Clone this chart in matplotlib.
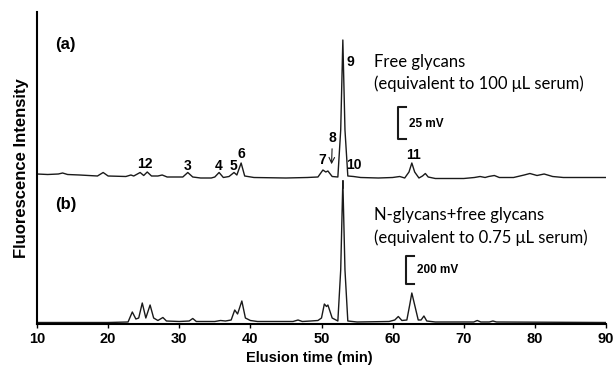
import matplotlib.pyplot as plt
import numpy as np

plt.rcParams['font.family'] = ['Liberation Sans', 'DejaVu Sans']

# trace (a): free glycans, elution time (min) / intensity (a.u.)
t_a = [10.0, 11.5, 13.0, 13.6, 14.3, 16.0, 18.5, 19.3, 20.0, 22.5, 23.2, 23.6,
       24.5, 25.0, 25.5, 26.1, 27.0, 27.6, 28.3, 29.5, 30.5, 31.2, 31.9, 33.0,
       34.5, 35.0, 35.6, 36.2, 37.0, 37.7, 38.1, 38.7, 39.2, 40.5, 45.0, 48.0,
       49.5, 50.2, 50.6, 50.9, 51.5, 52.3, 52.7, 53.0, 53.3, 53.7, 54.5, 55.5,
       58.0, 60.0, 61.0, 61.7, 62.3, 62.7, 63.1, 63.7, 64.2, 64.6, 65.0, 66.0,
       70.0, 71.5, 72.3, 73.0, 73.5, 74.3, 75.0, 77.0, 78.5, 79.3, 80.3, 81.3,
       82.5, 84.0, 90.0]
i_a = [150, 149.5, 150, 151, 149.5, 149, 148, 151.5, 148, 147.5, 149, 148,
       151.5, 148.5, 152, 148, 148, 149, 147, 147, 147, 151.5, 147, 146,
       146, 147, 151.5, 146.5, 147.5, 151.5, 149, 161, 148, 146.5, 146, 146.5,
       147, 154, 152, 153, 147.5, 147, 194, 284, 194, 148, 147.5, 146.5,
       146, 146.5, 147.5, 146, 152, 161, 152, 146, 148, 150.5, 147, 145.5,
       145.5, 146.5, 147.5, 146.5, 147.5, 148.5, 146.5, 146.5, 149, 150.5, 148.5, 150,
       147.5, 146.5, 146.5]

# trace (b): N-glycans + free glycans
t_b = [10.0, 20.0, 22.8, 23.4, 23.9, 24.3, 24.8, 25.3, 25.9, 26.4, 27.0, 27.7,
       28.2, 30.0, 31.4, 31.9, 32.4, 35.0, 35.8, 36.5, 37.3, 37.8, 38.2, 38.8,
       39.3, 40.0, 41.0, 46.0, 46.7, 47.3, 48.5, 49.5, 50.0, 50.4, 50.7, 50.9,
       51.5, 52.3, 52.7, 53.0, 53.3, 53.7, 55.0, 59.5, 60.3, 60.8, 61.3, 62.0,
       62.4, 62.7, 63.1, 63.6, 64.0, 64.4, 64.8, 66.0, 71.4, 71.9, 72.4, 73.6,
       74.1, 74.6, 90.0]
i_b = [1.5, 1.5, 2, 12, 5, 6, 21, 6, 19, 6, 3.5, 6.5,
       3, 2.5, 3, 5.5, 2.5, 2.5, 3.5, 3, 4, 14, 10, 23,
       6, 3.5, 2.5, 2.5, 4, 2.5, 3, 3.5, 6, 20, 17.5, 19,
       6, 3, 54, 143, 54, 3, 2, 2.5, 4, 7.5, 3.5, 4,
       19, 31, 19, 4, 4, 8, 3, 2, 2, 3.5, 2, 2,
       3, 2, 1.5]

# peak numbers for trace (a): label, time, height of label
peak_lbl = ['12', '3', '4', '5', '6', '7', '9', '10', '11']
peak_t = [25.1, 31.2, 35.6, 37.6, 38.7, 50.1, 54.1, 54.5, 62.9]
peak_y = [160, 158, 158, 158, 170, 164, 262, 159, 169]

fig = plt.figure(figsize=(6.15, 3.74), dpi=100)
ax = fig.add_axes([37 / 615, 50 / 374, 569 / 615, 312 / 374])

ax.plot(t_a, i_a, color='#1a1a1a', lw=1.0)
ax.plot(t_b, i_b, color='#1a1a1a', lw=1.0)
# injection mark under peak 9
ax.plot([53.0, 53.0], [136, 143], color='#1a1a1a', lw=1.2)

ax.set_xlim(10, 90)
ax.set_ylim(0, 312)
ax.spines['top'].set_visible(False)
ax.spines['right'].set_visible(False)
ax.spines['left'].set_linewidth(1.5)
ax.spines['bottom'].set_linewidth(1.5)
ax.set_yticks([])
ax.set_xticks(np.arange(10, 91, 10))
ax.tick_params(axis='x', length=3, width=1, labelsize=10.5, pad=3)
for lab in ax.get_xticklabels():
    lab.set_fontweight('bold')
ax.set_xlabel('Elusion time (min)', fontsize=10.5, fontweight='bold', labelpad=4)
ax.xaxis.set_label_coords(0.478, -0.085)
ax.set_ylabel('Fluorescence Intensity', fontsize=12, fontweight='bold', labelpad=6)

ax.text(12.5, 279, '(a)', fontsize=12, fontweight='bold', va='center')
ax.text(12.5, 120, '(b)', fontsize=12, fontweight='bold', va='center')

for lbl, x, y in zip(peak_lbl, peak_t, peak_y):
    ax.text(x, y, lbl, fontsize=10, fontweight='bold', ha='center', va='center')
ax.text(51.5, 186, '8', fontsize=10, fontweight='bold', ha='center', va='center')
ax.annotate('', xy=(51.4, 157), xytext=(51.5, 178),
            arrowprops=dict(arrowstyle='->', lw=0.8, color='#1a1a1a'))

ax.text(57.4, 262, 'Free glycans', fontsize=12, family=['Lato', 'DejaVu Sans'], va='center')
ax.text(57.4, 240, '(equivalent to 100 \u03bcL serum)', fontsize=12,
        family=['Lato', 'DejaVu Sans'], va='center')
ax.text(57.4, 109, 'N-glycans+free glycans', fontsize=12, family=['Lato', 'DejaVu Sans'], va='center')
ax.text(57.4, 86, '(equivalent to 0.75 \u03bcL serum)', fontsize=12,
        family=['Lato', 'DejaVu Sans'], va='center')

# scale bars
ax.plot([61.9, 60.8, 60.8, 61.9], [217, 217, 185, 185], color='#1a1a1a', lw=1.5)
ax.text(62.3, 200, '25 mV', fontsize=8.5, fontweight='bold', va='center')
ax.plot([63.0, 61.9, 61.9, 63.0], [68, 68, 40, 40], color='#1a1a1a', lw=1.5)
ax.text(63.4, 54, '200 mV', fontsize=8.5, fontweight='bold', va='center')

plt.savefig('out.png', dpi=100)
